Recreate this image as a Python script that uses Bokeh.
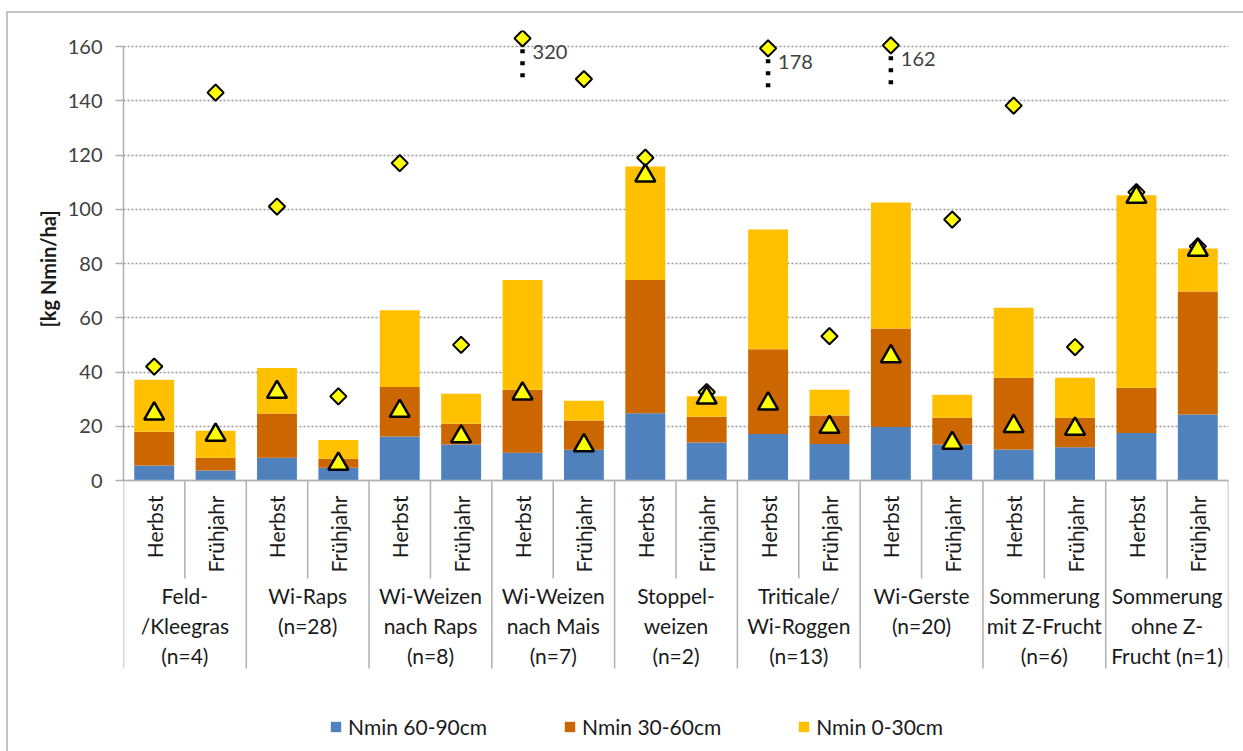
import numpy as np
from bokeh.plotting import figure
from bokeh.models import (ColumnDataSource, Range1d, FixedTicker, Legend, LegendItem, Title)
from bokeh.core.properties import value
from bokeh.embed import file_html
from bokeh.resources import INLINE

# ---------------- data ----------------
groups = ["Feld-\n/Kleegras\n(n=4)", "Wi-Raps\n(n=28)", "Wi-Weizen\nnach Raps\n(n=8)",
          "Wi-Weizen\nnach Mais\n(n=7)", "Stoppel-\nweizen\n(n=2)", "Triticale/\nWi-Roggen\n(n=13)",
          "Wi-Gerste\n(n=20)", "Sommerung\nmit Z-Frucht\n(n=6)", "Sommerung\nohne Z-\nFrucht (n=1)"]
seasons = ["Herbst", "Frühjahr"]

nmin_60_90 = [5.5, 3.7, 8.4, 4.7, 16.2, 13.3, 10.2, 11.3, 24.8, 14.0, 17.1, 13.5, 19.7, 13.3, 11.4, 12.3, 17.5, 24.3]
nmin_30_60 = [12.5, 4.7, 16.3, 3.3, 18.3, 7.6, 23.3, 10.8, 49.1, 9.5, 31.3, 10.5, 36.3, 9.8, 26.5, 10.8, 16.7, 45.4]
nmin_0_30 = [19.1, 9.9, 16.8, 6.9, 28.3, 11.1, 40.4, 7.3, 41.9, 7.6, 44.1, 9.5, 46.5, 8.5, 25.8, 14.8, 71.0, 15.8]
triangle_vals = [24.6, 16.8, 32.6, 6.1, 25.6, 16.2, 32.0, 12.9, 112.4, 30.5, 28.3, 19.7, 45.7, 13.8, 20.0, 19.0, 104.5, 85.0]
diamond_vals = [42.0, 143.0, 101.0, 31.0, 117.0, 50.0, 163.0, 148.0, 119.0, 32.6, 159.3, 53.2, 160.4, 96.2, 138.2, 49.2, 106.3, 86.3]
diamond_labels = ["", "", "", "", "", "", "320", "", "", "", "178", "", "162", "", "", "", "", ""]
series_names = ["Nmin 60-90cm", "Nmin 30-60cm", "Nmin 0-30cm"]
yticks = [0, 20, 40, 60, 80, 100, 120, 140, 160]

colors = ["#4F81BD", "#CC6600", "#FFC000"]
FONT = "Lato"

n = len(nmin_60_90)
xs = [i + 0.5 for i in range(n)]
PX = 2.7125  # px per unit (for the label layout below the axis)
src = ColumnDataSource(dict(x=xs, a=nmin_60_90, b=nmin_30_60, c=nmin_0_30,
                            tri=triangle_vals, dia=diamond_vals, lab=diamond_labels,
                            season=[seasons[i % 2] for i in range(n)],
                            sy=[-15 / PX] * n))

p = figure(frame_width=1105, frame_height=721, x_range=Range1d(0, n),
           y_range=Range1d(-271 / PX, 450 / PX), x_axis_location=None,
           toolbar_location=None, output_backend="svg",
           min_border_left=115, min_border_right=15, min_border_top=17, min_border_bottom=0)
p.margin = (11, 0, 0, 6)
p.styles = {"border-top": "2px solid #c4c4c4", "border-left": "2px solid #c4c4c4"}
p.outline_line_color = None
p.background_fill_color = "white"
p.border_fill_color = "white"

for g in p.grid:
    if g.dimension == 0:
        g.visible = False
p.ygrid.ticker = FixedTicker(ticks=yticks)
p.ygrid.bounds = (0, 160)
p.ygrid.grid_line_color = "#999999"
p.ygrid.grid_line_dash = "2 2"
p.ygrid.grid_line_width = 1.3

ya = p.yaxis[0]
ya.ticker = FixedTicker(ticks=yticks)
ya.bounds = (0, 160)
ya.minor_tick_line_color = None
ya.major_tick_in = 0
ya.major_tick_out = 8
ya.major_tick_line_color = "#b0b0b0"
ya.major_tick_line_width = 1.5
ya.axis_line_color = "#b0b0b0"
ya.axis_line_width = 1.5
ya.major_label_standoff = 13
ya.major_label_text_font = FONT
ya.major_label_text_font_size = "20px"
ya.major_label_text_color = "#404040"

# y axis title (vertical, reading upwards)
p.add_layout(Title(text="[kg Nmin/ha]", align="left", offset=424, text_font=FONT,
                   text_font_size="20px", text_font_style="bold", text_color="#1a1a1a",
                   standoff=10), "left")

# stacked bars
rs = p.vbar_stack(["a", "b", "c"], x="x", width=0.65, source=src, color=colors, line_color=None)

# x axis line at 0
p.segment(x0=[0], y0=[0], x1=[n], y1=[0], line_color="#b0b0b0", line_width=1.5)

# markers
p.scatter("x", "dia", source=src, marker="square", angle=np.pi / 4, size=11.5,
          fill_color="#FFFF00", line_color="black", line_width=2)
p.scatter("x", "tri", source=src, marker="triangle", size=20,
          fill_color="#FFFF00", line_color="black", line_width=2.5)

# axis-break marks and values for capped diamonds
cap_idx = [i for i in range(n) if diamond_labels[i]]
brk = ColumnDataSource(dict(x=[xs[i] for i in cap_idx],
                            y0=[diamond_vals[i] - 4 for i in cap_idx],
                            y1=[diamond_vals[i] - 15 for i in cap_idx]))
p.segment(x0="x", y0="y0", x1="x", y1="y1", source=brk, line_color="black",
          line_width=4.5, line_dash="4 8", line_cap="butt")
p.text("x", "dia", text="lab", source=src, x_offset=10, y_offset=14,
       text_font=value(FONT), text_font_size="20px", text_color="#404040",
       text_align="left", text_baseline="middle")

# category axis (two levels)
p.text("x", "sy", text="season", source=src, angle=np.pi / 2,
       text_font=value(FONT), text_font_size="21px", text_color="#1a1a1a",
       text_align="right", text_baseline="middle")
inner = [2 * k + 1 for k in range(len(groups))]
p.segment(x0=inner, y0=[0] * len(inner), x1=inner, y1=[-98 / PX] * len(inner),
          line_color="#b0b0b0", line_width=1.5)
outer = [2 * k for k in range(len(groups) + 1)]
p.segment(x0=outer, y0=[0] * len(outer), x1=outer, y1=[-188 / PX] * len(outer),
          line_color="#b0b0b0", line_width=1.5)
gx, gy, gt = [], [], []
for k, g in enumerate(groups):
    for j, line in enumerate(g.split("\n")):
        gx.append(2 * k + 1)
        gy.append(-(115 + 30 * j) / PX)
        gt.append(line)
p.text(gx, gy, text=gt, text_font=value(FONT), text_font_size="21px", text_color="#1a1a1a",
       text_align="center", text_baseline="middle")

legend = Legend(items=[LegendItem(label=series_names[i], renderers=[rs[i]]) for i in range(3)],
                orientation="horizontal", location=(206, 12), border_line_color=None,
                background_fill_alpha=0, label_text_font=FONT, label_text_font_size="21px",
                label_text_color="#1a1a1a", glyph_width=13, glyph_height=13,
                label_standoff=6, spacing=76, padding=0, margin=0, label_height=20)
p.add_layout(legend)

open("out.html", "w").write(file_html(p, INLINE))
